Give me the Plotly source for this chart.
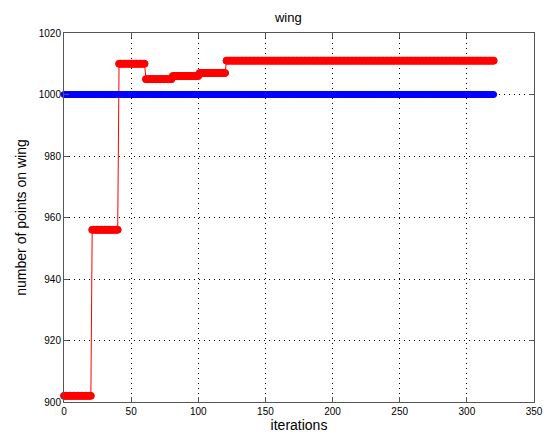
import plotly.graph_objects as go

# step levels of red series: (start iteration, end iteration, value)
red_starts = [0, 21, 41, 61, 81, 101, 121]
red_ends = [20, 40, 60, 80, 100, 120, 320]
red_levels = [902, 956, 1010, 1005, 1006, 1007, 1011]
blue_level = 1000
n_iter = 320

x_vals = list(range(0, n_iter + 1))
red_vals = []
for i in x_vals:
    for s, e, v in zip(red_starts, red_ends, red_levels):
        if s <= i <= e:
            red_vals.append(v)
            break
blue_vals = [blue_level] * len(x_vals)

x_ticks = [0, 50, 100, 150, 200, 250, 300, 350]
y_ticks = [900, 920, 940, 960, 980, 1000, 1020]

fig = go.Figure()
fig.add_trace(go.Scatter(
    x=x_vals, y=red_vals, mode="lines+markers",
    line=dict(color="#ff0000", width=1),
    marker=dict(symbol="circle", size=7, color="#ff0000",
                line=dict(color="#ff0000", width=1)),
    showlegend=False, cliponaxis=False))
fig.add_trace(go.Scatter(
    x=x_vals, y=blue_vals, mode="lines+markers",
    line=dict(color="#0000ff", width=1),
    marker=dict(symbol="circle", size=6, color="#0000ff",
                line=dict(color="#0000ff", width=1)),
    showlegend=False, cliponaxis=False))

axis_common = dict(
    showline=True, linecolor="#555555", linewidth=1, mirror="ticks",
    ticks="inside", ticklen=5, tickcolor="#555555",
    showgrid=True, gridcolor="#000000", griddash="1px,4px", gridwidth=1,
    zeroline=False, automargin=False, ticklabeloverflow="allow",
    tickfont=dict(family="Liberation Sans, Arial", size=10, color="#000000"),
)
fig.update_xaxes(range=[0, 350], tickvals=x_ticks, **axis_common,
                 title=dict(text="iterations", standoff=2,
                            font=dict(family="Liberation Sans, Arial", size=14, color="#000000")))
fig.update_yaxes(range=[900, 1020], tickvals=y_ticks, **axis_common,
                 title=dict(text="number of points on wing", standoff=8,
                            font=dict(family="Liberation Sans, Arial", size=14, color="#000000")))
fig.update_layout(
    width=544, height=439,
    margin=dict(l=64, r=10, t=33, b=37, autoexpand=False),
    paper_bgcolor="white", plot_bgcolor="white",
    title=dict(text="wing", x=0.53, xanchor="center", y=0.961, yanchor="middle",
               font=dict(family="Liberation Sans, Arial", size=13, color="#000000")),
)
fig.write_html("out.html", config={"displayModeBar": False},
               post_script="document.body.style.margin='0';document.body.style.overflow='hidden';")
